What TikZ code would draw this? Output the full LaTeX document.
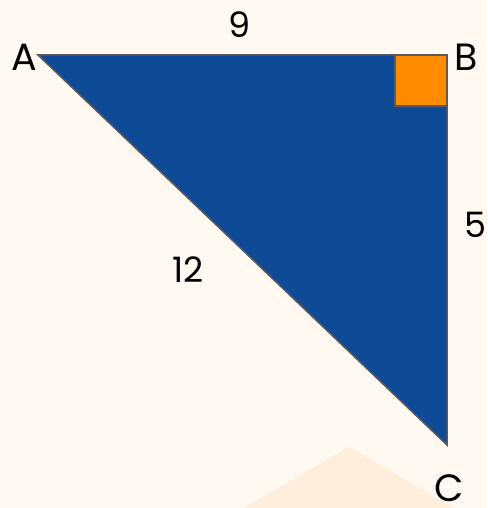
\documentclass[tikz,border=0pt]{standalone}
\usepackage{fontspec}
\setmainfont{Poppins}
\definecolor{bg}{HTML}{FFF9F2}
\definecolor{tri}{HTML}{0F4A96}
\definecolor{sq}{HTML}{FF8C00}
\definecolor{peach}{HTML}{FFEEDB}
\definecolor{edge}{HTML}{5A5A5A}
\tikzset{
  vlabel/.style={font=\fontsize{38}{40}\selectfont, inner sep=0pt},
  slabel/.style={font=\fontsize{35}{37}\selectfont, inner sep=0pt},
}
\begin{document}
\begin{tikzpicture}[x=1pt,y=-1pt]
\useasboundingbox (0,0) rectangle (487,508);
\fill[bg] (0,0) rectangle (487,508);
\begin{scope}
\clip (0,0) rectangle (487,508);
\fill[peach] (349,447) -- (237,512) -- (461,512) -- cycle;
\end{scope}
\coordinate (A) at (38,55);
\coordinate (B) at (447,55);
\coordinate (C) at (447,445);
\fill[tri] (A) -- (B) -- (C) -- cycle;
\fill[sq, draw=edge, line width=1.5pt] (395,55) rectangle (447,106);
\draw[edge, line width=1.5pt, line join=miter] (A) -- (B) -- (C) -- cycle;
\node[vlabel] (lA) at (24,57) {A};
\node[vlabel] (lB) at (466,57) {B};
\node[vlabel] (lC) at (449,488) {C};
\node[slabel] (l9) at (240,25) {9};
\node[slabel] (l5) at (475,225) {5};
\node[slabel] (l12) at (188,270) {12};
\end{tikzpicture}
\end{document}
